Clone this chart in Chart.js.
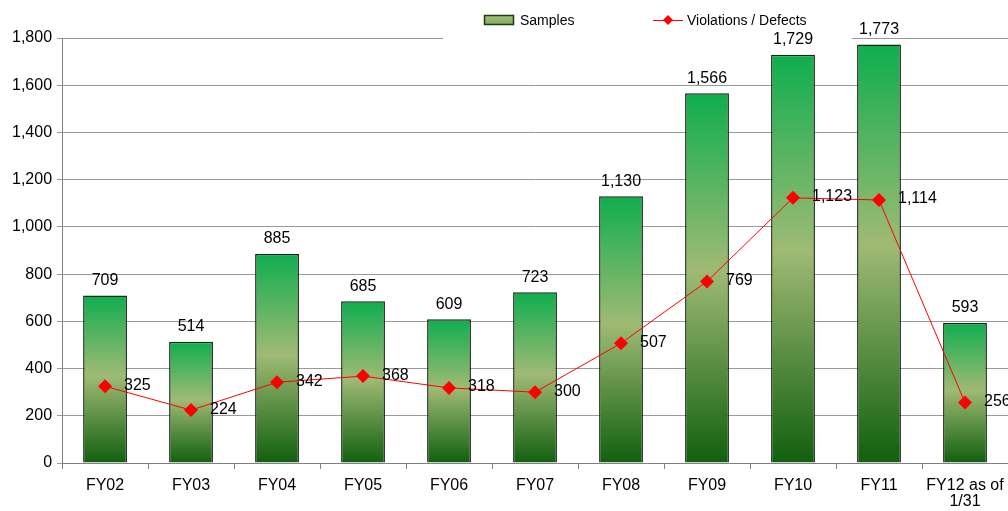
<!DOCTYPE html>
<html>
<head>
<meta charset="utf-8">
<script src="https://cdn.jsdelivr.net/npm/chart.js@4/dist/chart.umd.min.js"></script>
<style>
  html, body { margin: 0; padding: 0; background: #ffffff; overflow: hidden; }
  #wrap { width: 1008px; height: 511px; position: relative; }
</style>
</head>
<body>
<div id="wrap"><canvas id="chart"></canvas></div>
<script>
// Fiscal years
const categories = ['FY02', 'FY03', 'FY04', 'FY05', 'FY06', 'FY07', 'FY08', 'FY09', 'FY10', 'FY11', ['FY12 as of', '1/31']];
// Samples taken per year
const samples = [709, 514, 885, 685, 609, 723, 1130, 1566, 1729, 1773, 593];
// Violations / defects found per year
const violations = [325, 224, 342, 368, 318, 300, 507, 769, 1123, 1114, 256];
// Value axis ticks
const yTicks = [0, 200, 400, 600, 800, 1000, 1200, 1400, 1600, 1800];

const FONT = '"Liberation Sans", Arial, sans-serif';
const fmt = v => v.toLocaleString('en-US');

// vertical green gradient for each bar, spanning the bar from its top to the baseline
function barFill(context) {
  const chart = context.chart;
  if (!chart.chartArea || context.dataIndex === undefined) return '#9bbb6e';
  const ys = chart.scales.y;
  const top = ys.getPixelForValue(samples[context.dataIndex]);
  const bottom = ys.getPixelForValue(0);
  const g = chart.ctx.createLinearGradient(0, top, 0, bottom);
  g.addColorStop(0, '#0fae4f');
  g.addColorStop(0.48, '#9fba74');
  g.addColorStop(1, '#11600f');
  return g;
}

// legend with a white backdrop, sitting over the top gridline
const legendBox = {
  id: 'legendBox',
  beforeDatasetsDraw(chart) {
    const { ctx, chartArea } = chart;
    ctx.save();
    ctx.fillStyle = '#ffffff';
    ctx.fillRect(443, 0, 409, chartArea.top + 2);

    const cy = 20;
    // Samples swatch
    const sg = ctx.createLinearGradient(0, cy - 5, 0, cy + 5);
    sg.addColorStop(0, '#a3c17c');
    sg.addColorStop(1, '#7fa95a');
    ctx.fillStyle = sg;
    ctx.fillRect(484.5, cy - 4.5, 29, 9);
    ctx.strokeStyle = '#1c3a14';
    ctx.lineWidth = 1.5;
    ctx.strokeRect(484.5, cy - 4.5, 29, 9);

    ctx.fillStyle = '#000';
    ctx.font = '14px ' + FONT;
    ctx.textBaseline = 'middle';
    ctx.textAlign = 'left';
    ctx.fillText('Samples', 520, cy + 1);

    // Violations / Defects line + diamond
    ctx.strokeStyle = '#ff0000';
    ctx.lineWidth = 1;
    ctx.beginPath();
    ctx.moveTo(653, cy + 0.5);
    ctx.lineTo(683, cy + 0.5);
    ctx.stroke();
    ctx.fillStyle = '#ff0000';
    ctx.beginPath();
    ctx.moveTo(668, cy - 5);
    ctx.lineTo(673, cy);
    ctx.lineTo(668, cy + 5);
    ctx.lineTo(663, cy);
    ctx.closePath();
    ctx.fill();

    ctx.fillStyle = '#000';
    ctx.fillText('Violations / Defects', 687, cy + 1);
    ctx.restore();
  }
};

// value labels: above each bar, and to the right of each line point
const valueLabels = {
  id: 'valueLabels',
  afterDatasetsDraw(chart) {
    const { ctx } = chart;
    ctx.save();
    ctx.fillStyle = '#000';
    ctx.font = '16px ' + FONT;
    ctx.textBaseline = 'middle';

    const barMeta = chart.getDatasetMeta(1);
    ctx.textAlign = 'center';
    barMeta.data.forEach((el, i) => {
      ctx.fillText(fmt(samples[i]), el.x, el.y - 15);
    });

    const lineMeta = chart.getDatasetMeta(0);
    ctx.textAlign = 'left';
    lineMeta.data.forEach((el, i) => {
      ctx.fillText(fmt(violations[i]), el.x + 19, el.y - 1);
    });
    ctx.restore();
  }
};

new Chart(document.getElementById('chart'), {
  data: {
    labels: categories,
    datasets: [
      {
        type: 'line',
        label: 'Violations / Defects',
        data: violations,
        order: 0,
        borderColor: '#ff0000',
        borderWidth: 1,
        backgroundColor: '#ff0000',
        pointStyle: 'rectRot',
        pointRadius: 7,
        pointBackgroundColor: '#ff0000',
        pointBorderColor: '#ff0000',
        pointBorderWidth: 0,
        tension: 0,
        fill: false
      },
      {
        type: 'bar',
        label: 'Samples',
        data: samples,
        order: 1,
        backgroundColor: barFill,
        borderColor: '#122c0e',
        borderWidth: 1.5,
        barPercentage: 0.51,
        categoryPercentage: 1.0
      }
    ]
  },
  options: {
    responsive: true,
    maintainAspectRatio: false,
    animation: false,
    devicePixelRatio: 1,
    layout: { autoPadding: false, padding: { top: 38, right: 0, left: 7, bottom: -8 } },
    plugins: {
      legend: { display: false },
      tooltip: { enabled: false }
    },
    scales: {
      x: {
        offset: true,
        // the wrapped last label fits inside its category, so no side padding is needed
        afterFit(scale) { scale.paddingLeft = 0; scale.paddingRight = 0; },
        grid: {
          display: true,
          offset: true,
          drawOnChartArea: false,
          drawTicks: true,
          tickLength: 6,
          color: '#808080'
        },
        border: { display: true, color: '#808080', width: 1 },
        ticks: {
          color: '#000',
          padding: 9,
          maxRotation: 0,
          autoSkip: false,
          font: { family: FONT, size: 16, lineHeight: 1.0 }
        }
      },
      y: {
        min: yTicks[0],
        max: yTicks[yTicks.length - 1],
        afterBuildTicks(axis) { axis.ticks = yTicks.map(v => ({ value: v })); },
        grid: {
          color: '#999999',
          lineWidth: 1,
          tickLength: 5,
          drawTicks: true
        },
        border: { display: true, color: '#808080', width: 1 },
        ticks: {
          color: '#000',
          padding: 5,
          callback: v => fmt(v),
          font: { family: FONT, size: 16 }
        }
      }
    }
  },
  plugins: [legendBox, valueLabels]
});
</script>
</body>
</html>
